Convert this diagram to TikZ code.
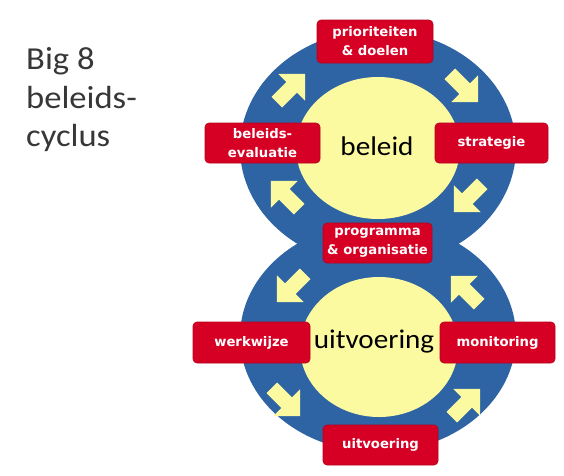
\documentclass[tikz,border=0pt]{standalone}
\usepackage{fontspec}
\newfontfamily\boxfont{DejaVu Sans}
\newfontfamily\calfont{Carlito}[FakeStretch=1.08]
\definecolor{ringblue}{RGB}{46,100,163}
\definecolor{softyellow}{RGB}{252,250,160}
\definecolor{boxred}{RGB}{214,0,36}
\definecolor{titlegray}{RGB}{55,55,55}
\tikzset{
  redbox/.style={fill=boxred, draw=boxred!85!black, line width=0.6pt, rounded corners=4pt, text=white,
    font=\boxfont\bfseries\fontsize{13.2}{19}\selectfont, align=center, inner sep=0pt},
  centertext/.style={font=\calfont\fontsize{27}{30}\selectfont, text=black, inner sep=0pt},
  titletext/.style={font=\calfont\fontsize{32}{38}\selectfont, text=titlegray, inner sep=0pt, anchor=base west},
  blockarrow/.pic={\fill[softyellow] (-20,-7.5) -- (1,-7.5) -- (1,-19) -- (20,0) -- (1,19) -- (1,7.5) -- (-20,7.5) -- cycle;}
}
\begin{document}
\begin{tikzpicture}[x=1pt,y=-1pt]
\useasboundingbox[fill=white] (0,0) rectangle (564,475);
% title
\node[titletext] (t1) at (26,69) {Big 8};
\node[titletext] (t2) at (26,108) {beleids-};
\node[titletext] (t3) at (26,146) {cyclus};
% figure eight
\fill[ringblue] (378,148) ellipse [x radius=138, y radius=118];
\fill[ringblue] (378,337) ellipse [x radius=138, y radius=115];
\fill[softyellow] (378,148) ellipse [x radius=82, y radius=71];
\fill[softyellow] (379,347) ellipse [x radius=79, y radius=70];
% arrows top circle (clockwise)
\pic[rotate=45] at (291,88) {blockarrow};
\pic[rotate=-45] at (464,88) {blockarrow};
\pic[rotate=-135] at (468,198) {blockarrow};
\pic[rotate=135] at (285,195) {blockarrow};
% arrows bottom circle (counter-clockwise)
\pic[rotate=-135] at (291,288) {blockarrow};
\pic[rotate=135] at (465,290) {blockarrow};
\pic[rotate=-45] at (286,402) {blockarrow};
\pic[rotate=45] at (466,403) {blockarrow};
% centre texts
\node[centertext] (beleid) at (377,146) {beleid};
\node[centertext] (uitv) at (374,342) {uitvoering};
% boxes
\node[redbox, minimum width=116pt, minimum height=43pt] (prio) at (375,41.5) {prioriteiten\\\& doelen};
\node[redbox, minimum width=115pt, minimum height=40pt] (evalu) at (262.5,143) {beleids-\\evaluatie};
\node[redbox, minimum width=113pt, minimum height=40pt] (strat) at (491.5,143) {strategie};
\node[redbox, minimum width=109pt, minimum height=40pt] (prog) at (377.5,243) {programma\\\& organisatie};
\node[redbox, minimum width=117pt, minimum height=41pt] (werk) at (251.5,342.5) {werkwijze};
\node[redbox, minimum width=115pt, minimum height=41pt] (moni) at (497.5,342.5) {monitoring};
\node[redbox, minimum width=115pt, minimum height=40pt] (uitbox) at (380.5,445) {uitvoering};
\end{tikzpicture}
\end{document}
